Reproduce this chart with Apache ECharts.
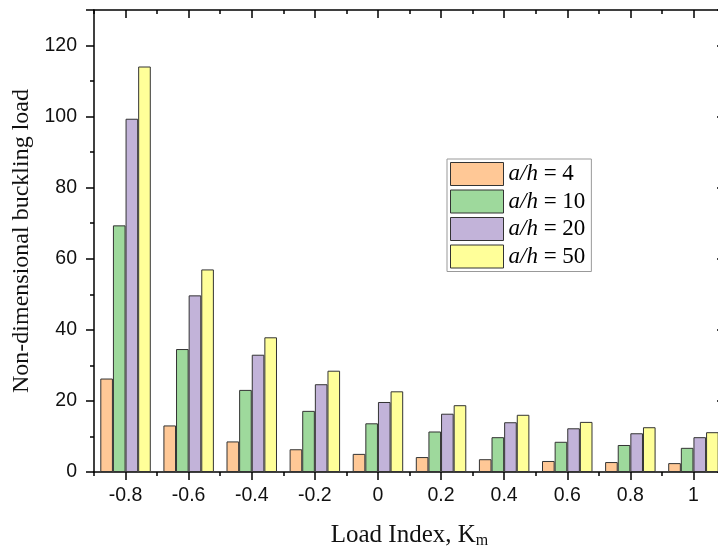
<!DOCTYPE html>
<html>
<head>
<meta charset="utf-8">
<script src="https://cdn.jsdelivr.net/npm/echarts@6/dist/echarts.min.js"></script>
<style>html,body{margin:0;padding:0;background:#fff;overflow:hidden;}#c{width:760px;height:549px;}</style>
</head>
<body>
<div id="c"></div>
<script>
const categories = ['-0.8','-0.6','-0.4','-0.2','0','0.2','0.4','0.6','0.8','1'];
// half-step positions used only for major/minor tick marks (-0.9 ... 1.1)
const tickSteps = ['-0.9','-0.8','-0.7','-0.6','-0.5','-0.4','-0.3','-0.2','-0.1','0','0.1',
                   '0.2','0.3','0.4','0.5','0.6','0.7','0.8','0.9','1','1.1'];
const seriesNames = ['4','10','20','50'];
const ah4  = [26.3, 13.1, 8.6, 6.4, 5.1, 4.2, 3.6, 3.1, 2.8, 2.5];
const ah10 = [69.4, 34.6, 23.1, 17.2, 13.7, 11.4, 9.8, 8.5, 7.6, 6.8];
const ah20 = [99.4, 49.7, 33.0, 24.7, 19.7, 16.4, 14.0, 12.3, 10.9, 9.8];
const ah50 = [114.1, 57.0, 37.9, 28.5, 22.7, 18.8, 16.1, 14.1, 12.6, 11.2];
const colors = ['#FFC896', '#9ED99C', '#C2B3D9', '#FFFF99'];

const chart = echarts.init(document.getElementById('c'), null, {renderer: 'canvas'});
const sans = 'Liberation Sans';
const serif = 'Liberation Serif';
const axisLine = {show: true, lineStyle: {color: '#000', width: 1.5}};
const tickLine = {color: '#000', width: 1.5};
const dataSets = [ah4, ah10, ah20, ah50];

function tickAxis(position, inside, major) {
  return {
    type: 'category', data: tickSteps, position: position, boundaryGap: false,
    axisLine: {show: false},
    axisTick: {show: true, inside: inside, length: major ? 8 : 4, lineStyle: tickLine,
      interval: (idx) => major ? (idx % 2 === 1) : (idx % 2 === 0)},
    axisLabel: {show: false}, splitLine: {show: false}
  };
}

const option = {
  animation: false,
  backgroundColor: '#fff',
  grid: {left: 94, top: 10, width: 631, height: 462, containLabel: false, outerBoundsMode: 'none'},
  legend: {
    orient: 'vertical',
    left: 447, top: 159,
    itemWidth: 53, itemHeight: 23, itemGap: 3.5,
    padding: [3, 6, 3, 3],
    borderColor: '#999', borderWidth: 1,
    icon: 'rect',
    itemStyle: {borderColor: '#333', borderWidth: 1},
    data: seriesNames.map(s => 'a/h = ' + s),
    formatter: function (name) { return '{i|a/h} = ' + name.split('= ')[1]; },
    textStyle: {
      fontFamily: serif, fontSize: 23, color: '#000', lineHeight: 24,
      rich: {i: {fontFamily: serif, fontSize: 23, fontStyle: 'italic', color: '#000', lineHeight: 24}}
    }
  },
  xAxis: [
    {
      type: 'category', data: categories, position: 'bottom',
      axisLine: axisLine,
      axisTick: {show: false},
      axisLabel: {fontFamily: sans, fontSize: 19.5, color: '#111', margin: 14},
      name: '{a|Load Index, K}{s|m}',
      nameLocation: 'middle', nameGap: 49,
      nameTextStyle: {
        rich: {
          a: {fontFamily: serif, fontSize: 25, color: '#111', lineHeight: 28},
          s: {fontFamily: serif, fontSize: 16, color: '#111', padding: [12, 0, 0, 0], lineHeight: 16}
        }
      }
    },
    tickAxis('bottom', false, true),
    tickAxis('bottom', false, false),
    {
      type: 'category', data: categories, position: 'top',
      axisLine: axisLine, axisTick: {show: false}, axisLabel: {show: false}
    },
    tickAxis('top', true, true),
    tickAxis('top', true, false)
  ],
  yAxis: [
    {
      type: 'value', min: 0, max: 130, interval: 20, position: 'left',
      axisLine: axisLine,
      axisTick: {show: true, length: 8, inside: false, lineStyle: tickLine},
      axisLabel: {fontFamily: sans, fontSize: 19.5, color: '#111', margin: 17,
        formatter: v => (v % 20 === 0 ? String(v) : '')},
      splitLine: {show: false},
      name: 'Non-dimensional buckling load',
      nameLocation: 'middle', nameGap: 58, nameRotate: 90,
      nameTextStyle: {fontFamily: serif, fontSize: 24, color: '#111'}
    },
    {
      type: 'value', min: 0, max: 130, interval: 10, position: 'left',
      axisLine: {show: false},
      axisTick: {show: true, length: 4, inside: false, lineStyle: tickLine},
      axisLabel: {show: false}, splitLine: {show: false}
    },
    {
      type: 'value', min: 0, max: 130, interval: 20, position: 'right',
      axisLine: axisLine,
      axisTick: {show: true, length: 8, inside: true, lineStyle: tickLine},
      axisLabel: {show: false}, splitLine: {show: false}
    }
  ],
  series: seriesNames.map((s, i) => ({
    name: 'a/h = ' + s,
    type: 'bar',
    xAxisIndex: 0, yAxisIndex: 0,
    data: dataSets[i],
    barGap: '0%', barCategoryGap: '20%',
    itemStyle: {color: colors[i], borderColor: '#333', borderWidth: 1}
  }))
};
chart.setOption(option);
</script>
</body>
</html>
